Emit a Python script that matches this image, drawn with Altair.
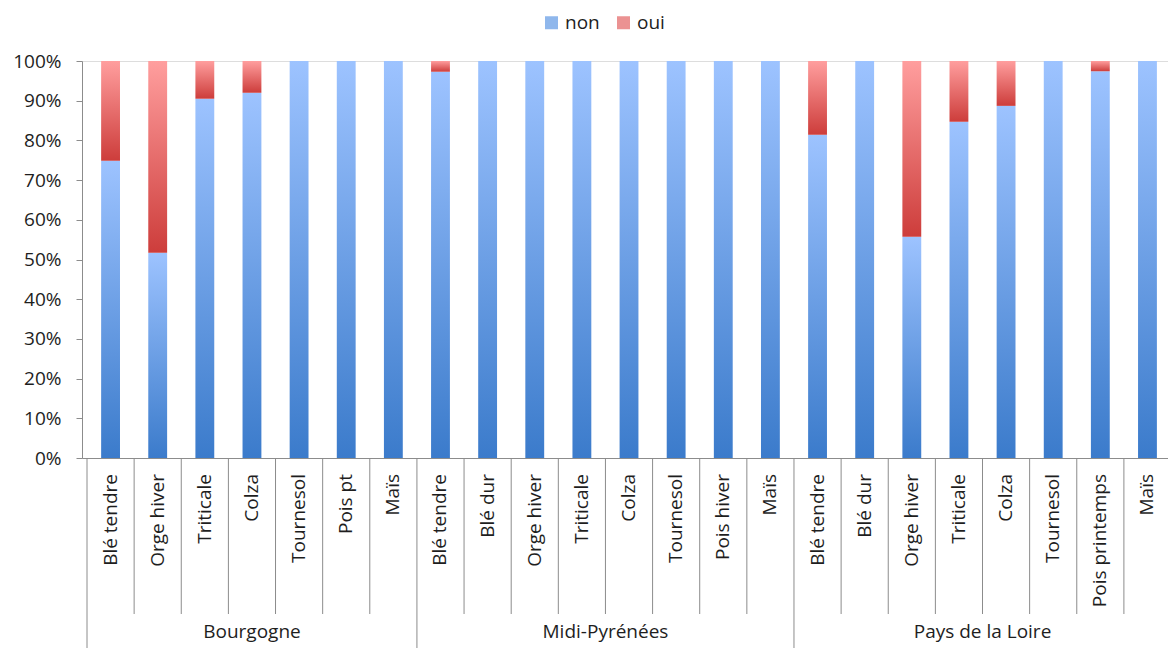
import altair as alt
import pandas as pd

# ---- data ----
regions = ["Bourgogne", "Midi-Pyrénées", "Pays de la Loire"]
crops_bourgogne = ["Blé tendre", "Orge hiver", "Triticale", "Colza", "Tournesol", "Pois pt", "Maïs"]
crops_midi = ["Blé tendre", "Blé dur", "Orge hiver", "Triticale", "Colza", "Tournesol", "Pois hiver", "Maïs"]
crops_loire = ["Blé tendre", "Blé dur", "Orge hiver", "Triticale", "Colza", "Tournesol", "Pois printemps", "Maïs"]
non_bourgogne = [74.9, 51.7, 90.5, 92.0, 100, 100, 100]
non_midi = [97.3, 100, 100, 100, 100, 100, 100, 100]
non_loire = [81.4, 100, 55.7, 84.7, 88.7, 100, 97.4, 100]
series = ["non", "oui"]
y_tick_pct = [0, 10, 20, 30, 40, 50, 60, 70, 80, 90, 100]

crops_by_region = [crops_bourgogne, crops_midi, crops_loire]
non_by_region = [non_bourgogne, non_midi, non_loire]

rows, reg_rows = [], []
i = 0
for reg, crops, nons in zip(regions, crops_by_region, non_by_region):
    reg_rows.append({"region": reg, "start": i, "center": i + len(crops) / 2})
    for c, n in zip(crops, nons):
        rows.append({"region": reg, "crop": c, "i": i, "non": n / 100.0,
                     "start_of_region": i == reg_rows[-1]["start"]})
        i += 1
n_total = i
df = pd.DataFrame(rows)
df_reg = pd.DataFrame(reg_rows)
df_series = pd.DataFrame({"serie": series})

FONT = "Open Sans"
FS = 19
TXT = "#1e1e1e"
AXC = "#8c8c8c"
PLOT_W = 1086
PLOT_H = 397
BAND = 47.57

grad_blue = {"gradient": "linear", "x1": 0, "y1": 0, "x2": 0, "y2": 1,
             "stops": [{"offset": 0, "color": "#9dc3ff"}, {"offset": 1, "color": "#3b7bcb"}]}
grad_red = {"gradient": "linear", "x1": 0, "y1": 0, "x2": 0, "y2": 1,
            "stops": [{"offset": 0, "color": "#ff9e9e"}, {"offset": 1, "color": "#cd3d3b"}]}

xscale = alt.Scale(domain=[0, PLOT_W / BAND], nice=False, zero=False)
yscale = alt.Scale(domain=[0, 1], nice=False)

xaxis = alt.Axis(labels=False, ticks=False, grid=False, title=None,
                 domainColor=AXC, domainWidth=1, orient="bottom")
yaxis = alt.Axis(values=[v / 100 for v in y_tick_pct], format=".0%", title=None,
                 grid=False, tickSize=6, tickColor=AXC, domainColor=AXC,
                 labelFont=FONT, labelFontSize=FS, labelColor=TXT,
                 labelPadding=15, orient="left")

base = alt.Chart(df).transform_calculate(
    xa="datum.i + 0.3", xb="datum.i + 0.7", xc="datum.i + 0.5", one="1", zero="0"
)

blue = base.mark_bar(fill=grad_blue, orient="vertical").encode(
    x=alt.X("xa:Q", scale=xscale, axis=xaxis),
    x2="xb:Q",
    y=alt.Y("non:Q", scale=yscale, axis=yaxis),
    y2="zero:Q",
)

red = base.mark_bar(fill=grad_red, orient="vertical").encode(
    x=alt.X("xa:Q", scale=xscale, axis=xaxis),
    x2="xb:Q",
    y=alt.Y("non:Q", scale=yscale, axis=yaxis),
    y2="one:Q",
)

legend_layer = alt.Chart(df_series).mark_square(size=0).encode(
    x=alt.value(0), y=alt.value(0),
    color=alt.Color("serie:N",
                    scale=alt.Scale(domain=series, range=["#5f98e4", "#e26464"]),
                    legend=alt.Legend(title=None, orient="none", direction="horizontal",
                                      legendX=460, legendY=-48, symbolType="square",
                                      symbolSize=169, symbolStrokeWidth=0,
                                      labelFont=FONT, labelFontSize=FS, labelColor=TXT,
                                      labelOffset=4, columnPadding=14)),
)

short_rules = base.transform_filter("!datum.start_of_region").mark_rule(
    color=AXC, strokeWidth=1).encode(
    x=alt.X("i:Q", scale=xscale, axis=xaxis),
    y=alt.value(PLOT_H), y2=alt.value(PLOT_H + 156),
)

region_rules = alt.Chart(df_reg).mark_rule(color=AXC, strokeWidth=1).encode(
    x=alt.X("start:Q", scale=xscale, axis=xaxis),
    y=alt.value(PLOT_H), y2=alt.value(PLOT_H + 195),
)

crop_text = base.mark_text(angle=270, align="right", baseline="middle",
                           font=FONT, fontSize=FS, color=TXT).encode(
    x=alt.X("xc:Q", scale=xscale, axis=xaxis),
    y=alt.value(PLOT_H + 16),
    text="crop:N",
)

region_text = alt.Chart(df_reg).mark_text(align="center", baseline="middle",
                                          font=FONT, fontSize=FS, color=TXT).encode(
    x=alt.X("center:Q", scale=xscale, axis=xaxis),
    y=alt.value(PLOT_H + 174),
    text="region:N",
)

chart = alt.layer(
    blue, red, short_rules, region_rules, crop_text, region_text, legend_layer
).properties(
    width=PLOT_W, height=PLOT_H,
    autosize=alt.AutoSizeParams(type="none"),
    padding={"left": 74, "top": 53, "right": 0, "bottom": 190},
).configure_view(stroke=None).configure(background="white")

chart.save("out.html", embed_options={"renderer": "svg", "actions": False})
